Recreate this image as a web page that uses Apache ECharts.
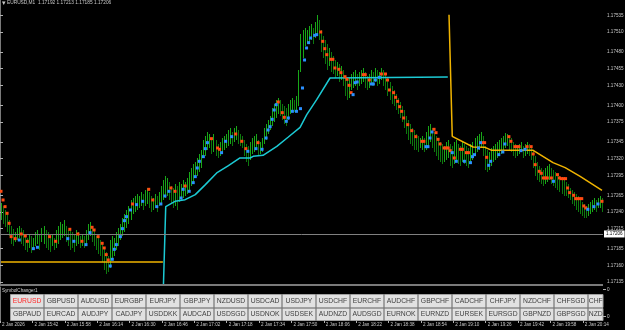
<!DOCTYPE html>
<html><head><meta charset="utf-8">
<script src="https://cdn.jsdelivr.net/npm/echarts@6/dist/echarts.min.js"></script>
<style>html,body{margin:0;padding:0;background:#000;}#c{width:625px;height:330px;}</style>
</head><body><div id="c"></div>
<script>
// prices in points above 1.17000 (1 point = 0.00001)
const barHigh = [254,249,243,237,228,219,215,210,216,219,
216,213,204,201,207,204,201,210,213,207,
216,219,213,210,204,207,201,213,219,225,
222,228,219,213,216,210,207,213,210,204,
207,204,213,222,225,219,213,204,201,198,
192,186,180,174,198,204,201,210,216,222,
231,237,243,249,258,261,264,267,264,270,
267,273,276,270,264,261,267,264,270,279,
288,294,291,285,279,276,282,279,285,282,
288,285,291,300,306,312,315,321,327,333,
348,354,360,357,351,357,348,342,345,351,
354,357,363,366,360,366,369,363,357,354,
348,342,339,345,351,354,357,348,345,351,
366,372,378,384,396,402,408,411,408,402,
399,396,402,408,411,408,414,453,507,513,
516,513,519,522,516,525,536,528,513,504,
498,492,486,480,474,468,465,462,459,453,
444,438,441,447,450,453,447,450,453,456,
450,444,447,453,450,456,453,450,456,453,
447,441,435,429,423,417,411,405,399,393,
384,378,372,366,363,357,354,351,354,351,
360,369,372,366,360,354,348,345,342,339,
345,348,342,339,345,348,342,339,345,342,
339,336,342,345,351,354,357,360,354,339,
333,330,336,339,342,345,348,351,354,359,
357,354,351,345,342,339,342,345,339,342,
345,342,339,333,324,315,309,306,303,306,
309,312,306,303,300,297,294,291,288,285,
282,276,273,270,267,264,258,255,252,249,
252,255,258,261,258,261,264,261];
const barLow = [228,222,218,210,204,192,189,195,198,201,
192,189,183,180,186,179,183,189,192,183,
195,192,186,183,180,189,183,186,192,198,
201,204,195,189,183,186,180,189,192,186,
189,186,192,198,204,195,189,183,177,174,
165,153,147,150,156,168,174,183,189,198,
204,210,216,222,228,237,240,243,246,249,
243,249,252,246,240,243,246,240,249,252,
258,261,264,258,252,246,249,243,255,258,
261,264,267,273,279,285,291,294,300,306,
321,324,333,336,327,330,324,321,324,327,
333,336,339,342,339,345,348,342,339,336,
324,315,309,318,327,330,333,324,327,330,
342,348,357,363,369,375,381,387,384,378,
372,369,378,387,390,390,393,399,450,471,
489,492,495,498,492,501,504,498,480,471,
462,453,459,450,447,441,444,435,438,429,
414,408,411,423,426,429,423,429,432,435,
426,423,426,432,429,435,429,432,438,429,
423,414,408,402,399,393,387,381,375,366,
357,348,342,339,333,333,330,336,333,330,
333,339,345,336,330,324,318,315,312,315,
318,321,309,306,312,318,312,309,315,312,
309,306,312,318,324,330,333,336,324,303,
300,303,309,315,318,321,324,327,333,336,
339,333,330,324,321,324,327,330,321,324,
327,324,318,306,294,288,285,282,279,282,
285,288,282,279,276,273,270,267,264,264,
261,258,252,249,243,240,237,234,231,231,
234,237,240,243,240,246,246,240];
const orangeDots = [[0,271],[1,258],[2,248],[3,238],[4,223],[5,203],[7,200],[10,207],[12,204],[13,196],[24,203],[27,196],[34,214],[38,207],[40,196],[45,217],[46,213],[48,203],[50,193],[51,186],[52,176],[53,168],[65,252],[73,274],[75,258],[84,276],[86,271],[91,279],[104,350],[107,336],[108,334],[116,357],[119,346],[121,335],[127,344],[137,405],[139,389],[140,382],[158,510],[159,496],[160,485],[161,476],[163,469],[164,469],[165,456],[167,454],[168,449],[170,443],[171,439],[172,430],[173,419],[179,446],[180,446],[182,438],[188,447],[190,447],[191,438],[192,423],[194,419],[195,412],[196,406],[197,398],[198,391],[199,381],[201,371],[203,362],[205,353],[208,346],[209,346],[214,364],[215,359],[216,349],[217,342],[219,336],[220,336],[221,336],[222,332],[224,321],[227,334],[228,334],[230,329],[231,329],[238,344],[239,344],[240,322],[251,353],[252,346],[254,338],[255,338],[256,338],[260,338],[262,338],[263,327],[264,311],[266,301],[267,298],[268,291],[269,291],[270,291],[272,291],[275,296],[276,291],[277,290],[278,290],[279,290],[280,276],[281,269],[283,265],[284,260],[285,260],[286,260],[287,260],[288,249],[289,246],[297,256]];
const blueDots = [[9,198],[16,185],[18,187],[33,200],[36,196],[42,191],[44,209],[54,159],[55,169],[56,184],[57,191],[59,203],[60,215],[61,227],[62,233],[64,243],[67,251],[70,256],[77,248],[79,252],[81,264],[83,271],[89,261],[90,274],[93,271],[95,284],[96,293],[97,306],[98,316],[100,323],[101,335],[102,344],[109,329],[111,346],[114,353],[122,331],[126,335],[129,334],[131,351],[132,363],[133,368],[134,379],[135,393],[136,401],[141,376],[142,381],[144,391],[146,391],[148,395],[149,426],[150,468],[151,486],[152,494],[153,501],[155,505],[156,506],[174,416],[175,434],[176,435],[183,432],[184,432],[185,438],[187,442],[210,338],[211,338],[212,351],[213,360],[223,329],[225,316],[229,316],[232,314],[233,323],[234,326],[236,336],[237,344],[241,310],[242,316],[246,326],[248,330],[249,342],[257,332],[259,334],[273,286],[290,244],[293,248],[295,252]];
const yellowA = [[0,165],[80,165]];
const yellowB = [[221.4,536],[223,353.5],[233.3,337.5],[239.2,337],[242.5,332.5],[263,332.5],[272.8,314],[278.8,306.5],[286.2,293.5],[297,272.5]];
const cyanLine = [[80.2,123],[81.4,248],[86,256],[91,258.5],[96,266],[101,281],[106.6,298.5],[112.4,309.5],[118.1,321],[123.1,321],[124.6,323.5],[129.5,325],[136.3,338.5],[142,352.5],[147.8,367],[151.1,386],[156,408.5],[162.6,441],[163.5,442.5],[220.8,442.5]];
const priceTicks = [135,160,185,215,240,265,295,320,345,375,400,430,455,480,510,535];
const timeLabels = ['2 Jan 2026','2 Jan 15:42','2 Jan 15:58','2 Jan 16:14','2 Jan 16:30','2 Jan 16:46','2 Jan 17:02','2 Jan 17:18','2 Jan 17:34','2 Jan 17:50','2 Jan 18:06','2 Jan 18:22','2 Jan 18:38','2 Jan 18:54','2 Jan 19:10','2 Jan 19:26','2 Jan 19:42','2 Jan 19:58','2 Jan 20:14'];
const bidLevel = 207;
const bidText = '1.17206';
const titleText = 'EURUSD,M1  1.17192 1.17213 1.17185 1.17206';
const panelName = 'SymbolChanger1';
const buttonsRow1 = ['EURUSD','GBPUSD','AUDUSD','EURGBP','EURJPY','GBPJPY','NZDUSD','USDCAD','USDJPY','USDCHF','EURCHF','AUDCHF','GBPCHF','CADCHF','CHFJPY','NZDCHF','CHFSGD','CHF'];
const buttonsRow2 = ['GBPAUD','EURCAD','AUDJPY','CADJPY','USDDKK','AUDCAD','USDSGD','USDNOK','USDSEK','AUDNZD','AUDSGD','EURNOK','EURNZD','EURSEK','EURSGD','GBPNZD','GBPSGD','NZD'];
const subLabels = ['0','0'];

const FONT = '"Liberation Sans", Arial, sans-serif';
const UP = 'rgb(24,168,24)', DOWN = 'rgb(14,120,14)';
const bx = i => i + 0.5;
const upBars = [], downBars = [];
barHigh.forEach((h, i) => {
  const mid = (h + barLow[i]) / 2;
  const prev = i > 0 ? (barHigh[i-1] + barLow[i-1]) / 2 : mid;
  (mid >= prev ? upBars : downBars).push([bx(i), h, barLow[i]]);
});
const shift = arr => arr.map(d => [bx(d[0]), d[1]]);

function barSeries(data, color, withBid) {
  const s = {type:'custom', xAxisIndex:0, yAxisIndex:0, data:data, clip:true, z:2,
    itemStyle:{color:color, borderColor:color, opacity:1},
    emphasis:{disabled:true}, blur:{itemStyle:{opacity:1}},
    renderItem:(params, api) => {
      const x = api.value(0);
      const p1 = api.coord([x, api.value(1)]);
      const p2 = api.coord([x, api.value(2)]);
      const px = Math.round(p1[0]);
      return {type:'rect', shape:{x:px, y:Math.round(p1[1]), width:1, height:Math.max(1, Math.round(p2[1]-p1[1]))},
        style:{fill:color, opacity:1}};
    }};
  if (withBid) {
    s.markLine = {silent:true, symbol:'none', animation:false,
      lineStyle:{color:'#808080', width:1, type:'solid', opacity:1},
      label:{show:true, position:'end', formatter:bidText, backgroundColor:'#ffffff', color:'#000000', fontSize:4.6, fontFamily:FONT, padding:[1,2], distance:1},
      data:[{yAxis:bidLevel}]};
  }
  return s;
}

const graphics = [];
graphics.push({type:'rect', left:0, top:284, shape:{width:603, height:2}, style:{fill:'#7a7a7a'}, z:50});
graphics.push({type:'text', left:2, top:0, style:{text:'\u25BE', fill:'#c8c8c8', font:'7px '+FONT}, z:50});
graphics.push({type:'text', left:7, top:0.5, style:{text:titleText, fill:'#c8c8c8', font:'4.8px '+FONT}, z:50});
graphics.push({type:'text', left:2, top:288.5, style:{text:panelName, fill:'#d0d0d0', font:'4.6px '+FONT}, z:50});
[[289,0],[316,1]].forEach(([y,k]) => {
  graphics.push({type:'rect', shape:{x:603, y:y, width:3, height:1}, style:{fill:'#b0b0b0'}, z:50});
  graphics.push({type:'text', x:607, y:y+0.5, style:{text:subLabels[k], fill:'#c8c8c8', font:'4.6px '+FONT, verticalAlign:'middle'}, z:50});
});
function addRow(labels, y, h) {
  labels.forEach((t, k) => {
    const x = 10 + 34 * k;
    const w = Math.min(33, 602.5 - x);
    graphics.push({type:'rect', shape:{x:x+0.5, y:y+0.5, width:w, height:h}, style:{fill:'#e1e1e1', stroke:'#a0a0a0', lineWidth:1}, z:60});
    graphics.push({type:'text', x:x + 0.5 + w/2, y:y + 0.5 + h/2, style:{text:t, fill: t === 'EURUSD' ? '#ff2a2a' : '#404040', font:'6.8px '+FONT, align:'center', verticalAlign:'middle'}, z:61});
  });
}
addRow(buttonsRow1, 294, 13);
addRow(buttonsRow2, 308, 12);

const chart = echarts.init(document.getElementById('c'), null, {renderer:'canvas'});
chart.setOption({
  backgroundColor:'#000000',
  animation:false,
  grid:[
    {left:0, top:0, width:603, height:285.3, outerBoundsMode:'none', containLabel:false},
    {left:0, top:287, width:603, height:34, outerBoundsMode:'none', containLabel:false}
  ],
  xAxis:[
    {gridIndex:0, type:'value', min:0, max:298, show:false, splitLine:{show:false}},
    {gridIndex:1, type:'value', min:0, max:298,
      axisLine:{show:false}, splitLine:{show:false},
      axisTick:{show:true, length:2, lineStyle:{color:'#b0b0b0'}, customValues: timeLabels.map((t,k)=>k*16)},
      axisLabel:{show:true, customValues: timeLabels.map((t,k)=>k*16), formatter: v => timeLabels[Math.round(v/16)] || '',
        color:'#c8c8c8', fontSize:4.6, fontFamily:FONT, align:'left', margin:1, padding:[0,0,0,2], verticalAlign:'top', showMinLabel:true, showMaxLabel:true, hideOverlap:false}}
  ],
  yAxis:[
    {gridIndex:0, type:'value', position:'right', min:130, max:558, scale:true,
      axisLine:{show:true, lineStyle:{color:'#7a7a7a', width:1}},
      splitLine:{show:false},
      axisTick:{show:true, length:3, inside:false, customValues: priceTicks, lineStyle:{color:'#b0b0b0'}},
      axisLabel:{show:true, customValues: priceTicks, formatter: v => (1.17 + v/100000).toFixed(5),
        color:'#c8c8c8', fontSize:4.6, fontFamily:FONT, margin:4, hideOverlap:false}},
    {gridIndex:1, type:'value', position:'right', min:0, max:1,
      axisLine:{show:true, lineStyle:{color:'#7a7a7a', width:1}},
      splitLine:{show:false}, axisTick:{show:false}, axisLabel:{show:false}}
  ],
  series:[
    barSeries(upBars, UP, true),
    barSeries(downBars, DOWN, false),
    {type:'line', xAxisIndex:0, yAxisIndex:0, data:shift(yellowA), symbol:'none', lineStyle:{color:'#f0b400', width:1.5}, z:4, clip:true},
    {type:'line', xAxisIndex:0, yAxisIndex:0, data:shift(yellowB), symbol:'none', lineStyle:{color:'#f0b400', width:1.5}, z:4, clip:true},
    {type:'line', xAxisIndex:0, yAxisIndex:0, data:shift(cyanLine), symbol:'none', lineStyle:{color:'#1ccad4', width:1.5}, z:4, clip:true},
    {type:'scatter', xAxisIndex:0, yAxisIndex:0, data:shift(orangeDots), symbol:'rect', symbolSize:3, itemStyle:{color:'#ff4a12', opacity:1}, z:5},
    {type:'scatter', xAxisIndex:0, yAxisIndex:0, data:shift(blueDots), symbol:'rect', symbolSize:3, itemStyle:{color:'#2a90ff', opacity:1}, z:5}
  ],
  graphic: graphics
});
</script>
</body></html>
